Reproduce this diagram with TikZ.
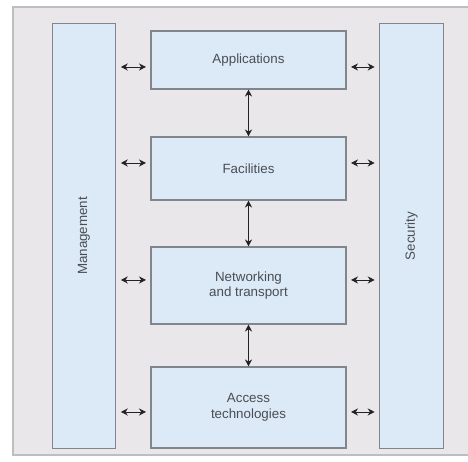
\documentclass[tikz,border=0pt]{standalone}
\usepackage{fontspec}
\setmainfont{Liberation Sans}
\usetikzlibrary{arrows.meta, positioning}
\definecolor{panelGray}{RGB}{233,231,234}
\definecolor{panelEdge}{RGB}{190,190,192}
\definecolor{boxBlue}{RGB}{220,233,246}
\definecolor{boxEdge}{RGB}{128,134,140}
\definecolor{textGray}{RGB}{72,78,84}
\definecolor{arrowBlack}{RGB}{35,35,35}

\begin{document}
\begin{tikzpicture}[x=0.02cm, y=-0.02cm,
    layer/.style={draw=boxEdge, fill=boxBlue, line width=0.6pt, text=textGray, align=center,
        inner sep=0pt, font=\fontsize{7.6}{9}\selectfont, minimum width=3.9cm},
    side/.style={draw=boxEdge, fill=boxBlue, line width=0.6pt, text=textGray, inner sep=0pt,
        font=\fontsize{7.6}{9}\selectfont, rotate=90, minimum width=8.52cm, minimum height=1.27cm},
    link/.style={{Stealth[length=4pt,width=4pt]}-{Stealth[length=4pt,width=4pt]},
        arrowBlack, line width=0.5pt},
    hlink/.style={link, shorten <=0.09cm, shorten >=0.09cm}]
    \useasboundingbox (0,0) rectangle (468,462);

    % panel
    \fill[panelGray] (13,7) rectangle (468,455);
    \draw[panelEdge, line width=0.8pt] (468,7) -- (13,7) -- (13,455) -- (468,455);

    % side columns
    \node[side] (mgmt) at (84,236) {Management};
    \node[side] (sec) at (411.5,236) {Security};

    % layer stack
    \node[layer, minimum height=1.16cm] (apps) at (248.5,60) {Applications};
    \node[layer, minimum height=1.26cm] (fac) at (248.5,168.5) {Facilities};
    \node[layer, minimum height=1.54cm] (net) at (248.5,285.5) {Networking\\and transport};
    \node[layer, minimum height=1.62cm] (acc) at (248.5,407.5) {Access\\technologies};

    \draw[link] (apps) -- (fac);
    \draw[link] (fac) -- (net);
    \draw[link] (net) -- (acc);

    % arrow heights
    \coordinate (appsL) at ([yshift=-0.14cm]apps.west);
    \coordinate (appsR) at ([yshift=-0.14cm]apps.east);
    \coordinate (facL) at ([yshift=0.11cm]fac.west);
    \coordinate (facR) at ([yshift=0.11cm]fac.east);
    \coordinate (netL) at ([yshift=0.11cm]net.west);
    \coordinate (netR) at ([yshift=0.11cm]net.east);
    \coordinate (accL) at ([yshift=-0.09cm]acc.west);
    \coordinate (accR) at ([yshift=-0.09cm]acc.east);

    \draw[hlink] (mgmt.south |- appsL) -- (appsL);
    \draw[hlink] (mgmt.south |- facL) -- (facL);
    \draw[hlink] (mgmt.south |- netL) -- (netL);
    \draw[hlink] (mgmt.south |- accL) -- (accL);

    \draw[hlink] (appsR) -- (sec.north |- appsR);
    \draw[hlink] (facR) -- (sec.north |- facR);
    \draw[hlink] (netR) -- (sec.north |- netR);
    \draw[hlink] (accR) -- (sec.north |- accR);
\end{tikzpicture}
\end{document}
